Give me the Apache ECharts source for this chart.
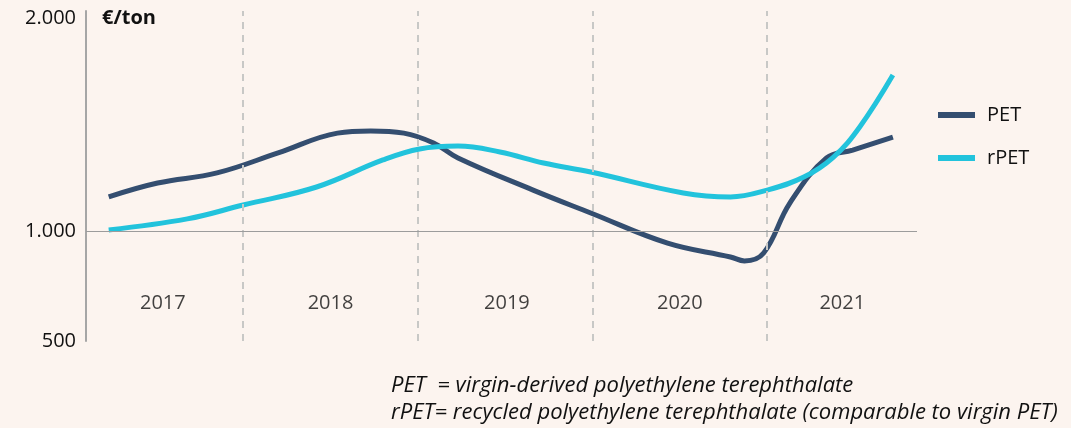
<!DOCTYPE html>
<html lang="en">
<head>
    <meta charset="UTF-8">
    <title>PET vs rPET</title>
    <style>
        html, body { margin: 0; padding: 0; background: #fcf4ef; }
        #box { width: 1071px; height: 428px; }
    </style>
</head>
<body>
<div id="box"></div>
<script src="https://cdn.jsdelivr.net/npm/echarts@6/dist/echarts.min.js"></script>
<script>
    // prices in €/ton, x = fractional year
    var petPoints = [
        [2017.23, 1155], [2017.51, 1218], [2017.85, 1264], [2018.20, 1355],
        [2018.54, 1445], [2018.73, 1455], [2018.92, 1445], [2019.09, 1400],
        [2019.23, 1332], [2019.66, 1186], [2019.99, 1082], [2020.43, 945],
        [2020.79, 882], [2020.87, 864], [2020.98, 900], [2021.13, 1127],
        [2021.34, 1332], [2021.49, 1368], [2021.72, 1427]
    ];
    var rpetPoints = [
        [2017.23, 1005], [2017.68, 1055], [2018.00, 1118], [2018.42, 1200],
        [2018.80, 1323], [2019.01, 1373], [2019.23, 1386], [2019.47, 1359],
        [2019.72, 1309], [2019.99, 1268], [2020.52, 1173], [2020.79, 1155],
        [2021.00, 1186], [2021.21, 1245], [2021.38, 1336], [2021.53, 1473],
        [2021.72, 1709]
    ];
    var yearNames = ['2017', '2018', '2019', '2020', '2021'];
    var yearPos = [2017.54, 2018.50, 2019.51, 2020.50, 2021.43];
    var yearBreaks = [2018, 2019, 2020, 2021];
    var baseValue = 1000;

    var mychart = echarts.init(document.getElementById('box'));
    var font = 'Open Sans';

    var option = {
        backgroundColor: '#fcf4ef',
        textStyle: { fontFamily: font },
        grid: { left: 86, right: 154, top: 11, bottom: 87 },
        xAxis: {
            type: 'value',
            min: 2017.1,
            max: 2021.858,
            show: false
        },
        yAxis: {
            type: 'value',
            min: 500,
            max: 2000,
            interval: 500,
            axisLine: { show: true, lineStyle: { color: '#a6a6a6', width: 2 } },
            axisTick: { show: false },
            splitLine: { show: false },
            axisLabel: {
                margin: 10,
                fontSize: 20,
                color: '#111',
                fontFamily: font,
                formatter: function (v) {
                    if (v === 2000) return '{top|2.000}';
                    if (v === 1000) return '1.000';
                    if (v === 500) return '500';
                    return '';
                },
                rich: {
                    top: { fontSize: 20, color: '#111', fontFamily: font, padding: [14, 0, 0, 0] }
                }
            }
        },
        legend: {
            orient: 'vertical',
            left: 933,
            top: 100,
            itemWidth: 37,
            itemHeight: 6,
            itemGap: 23,
            icon: 'rect',
            data: ['PET', 'rPET'],
            textStyle: { fontSize: 20, color: '#111', fontFamily: font, padding: [0, 0, 0, 7] }
        },
        graphic: [
            { type: 'text', left: 102, top: 8, style: { text: '€/ton', font: 'bold 20px "' + font + '"', fill: '#111' } },
            { type: 'text', left: 391, top: 375, style: { text: 'PET  = virgin-derived polyethylene terephthalate', font: 'italic 22px "' + font + '"', fill: '#111' } },
            { type: 'text', left: 391, top: 402, style: { text: 'rPET= recycled polyethylene terephthalate (comparable to virgin PET)', font: 'italic 22px "' + font + '"', fill: '#111' } }
        ],
        series: [
            {
                name: 'guides',
                type: 'line',
                data: [],
                z: 1,
                silent: true,
                markLine: {
                    silent: true,
                    symbol: 'none',
                    label: { show: false },
                    data: yearBreaks.map(function (y) {
                        return { xAxis: y, lineStyle: { type: [7, 6], color: '#c8c8c6', width: 2 } };
                    }).concat([
                        { yAxis: baseValue, lineStyle: { type: 'solid', color: '#9c9c9c', width: 1.2 } }
                    ])
                }
            },
            {
                name: 'years',
                type: 'scatter',
                symbolSize: 0,
                silent: true,
                label: {
                    show: true,
                    position: 'inside',
                    fontSize: 20,
                    color: '#111',
                    fontFamily: font,
                    formatter: function (p) { return p.name; }
                },
                data: yearPos.map(function (x, i) {
                    return { name: yearNames[i], value: [x, 673] };
                })
            },
            {
                name: 'PET',
                type: 'line',
                smooth: 0.4,
                symbol: 'none',
                z: 3,
                color: '#344e70',
                lineStyle: { width: 5, color: '#344e70' },
                data: petPoints
            },
            {
                name: 'rPET',
                type: 'line',
                smooth: 0.4,
                symbol: 'none',
                z: 4,
                color: '#22c3dc',
                lineStyle: { width: 5, color: '#22c3dc' },
                data: rpetPoints
            }
        ]
    };
    mychart.setOption(option);
</script>
</body>
</html>
